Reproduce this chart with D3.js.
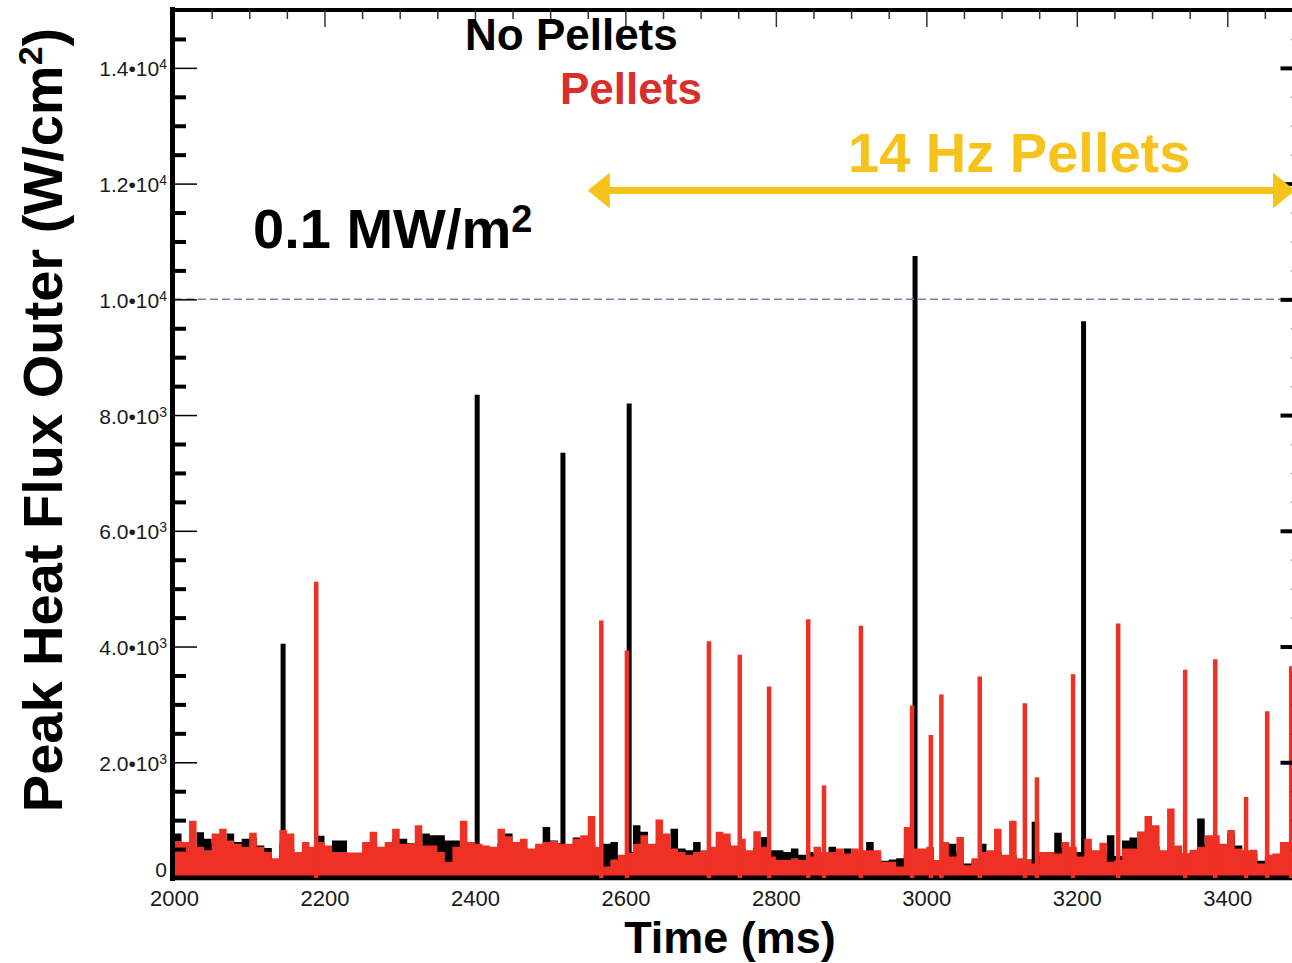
<!DOCTYPE html>
<html>
<head>
<meta charset="utf-8">
<script src="https://cdn.jsdelivr.net/npm/d3@7"></script>
<style>
  html, body { margin: 0; padding: 0; background: #fff; }
  svg { display: block; font-family: "Liberation Sans", Arial, Helvetica, sans-serif; }
</style>
</head>
<body>
<svg id="chart" width="1292" height="963"></svg>
<script>
// noisy baseline, upper envelope per 10 ms bin starting at 2000 ms (W/cm2)
const binStart = 2000
const binWidth = 10

const noPelletsBase = [
  770, 560, 520, 790, 680, 600, 560, 770, 620, 680,
  700, 560, 520, 300, 600, 500, 420, 450, 520, 730,
  520, 650, 650, 400, 380, 450, 600, 450, 520, 680,
  680, 600, 560, 770, 740, 740, 650, 650, 600, 500,
  560, 480, 450, 600, 770, 500, 520, 450, 520, 880,
  650, 600, 520, 700, 560, 620, 480, 590, 620, 380,
  450, 910, 800, 560, 600, 520, 850, 510, 480, 620,
  420, 450, 480, 600, 520, 500, 450, 520, 710, 480,
  480, 450, 510, 400, 450, 420, 380, 540, 400, 510,
  420, 400, 620, 380, 300, 320, 340, 400, 450, 420,
  510, 300, 620, 590, 450, 250, 300, 590, 420, 450,
  350, 400, 300, 320, 970, 380, 400, 780, 520, 450,
  450, 500, 420, 450, 740, 380, 650, 700, 800, 600,
  550, 420, 500, 450, 420, 450, 1030, 600, 500, 480,
  770, 560, 450, 420, 300, 350, 400, 450, 420, 400
]

const pelletsBase = [
  640, 620, 990, 540, 480, 770, 850, 650, 590, 540,
  780, 540, 450, 340, 830, 770, 450, 620, 540, 620,
  560, 450, 450, 440, 440, 620, 800, 540, 620, 850,
  590, 590, 910, 560, 560, 450, 280, 540, 990, 620,
  590, 560, 540, 850, 720, 620, 680, 510, 590, 620,
  640, 590, 590, 680, 740, 1070, 540, 200, 320, 400,
  430, 590, 740, 590, 1010, 770, 510, 450, 400, 450,
  480, 540, 800, 770, 560, 680, 480, 810, 540, 370,
  310, 310, 340, 310, 370, 540, 450, 450, 510, 425,
  510, 480, 480, 480, 280, 280, 200, 880, 510, 510,
  540, 310, 620, 370, 710, 220, 340, 450, 480, 850,
  400, 990, 340, 310, 250, 450, 450, 425, 620, 540,
  370, 680, 480, 610, 280, 310, 510, 510, 800, 1070,
  910, 480, 1200, 560, 425, 490, 540, 740, 740, 590,
  830, 510, 480, 490, 250, 400, 425, 620, 620, 600
]

// ELM spikes: [time (ms), peak (W/cm2)]
const noPelletsSpikes = [
  [2145, 4050], [2403, 8350], [2517, 7350], [2605, 8200], [2985, 10750], [3209, 9620]
]

const pelletsSpikes = [
  [2189, 5120], [2568, 4450], [2602, 3930], [2711, 4090], [2752, 3860], [2791, 3310],
  [2843, 4470], [2864, 1600], [2913, 4360], [2981, 2980], [3006, 2470], [3020, 3170],
  [3071, 3480], [3131, 3020], [3147, 1740], [3195, 3520], [3255, 4400], [3344, 3600],
  [3384, 3780], [3425, 1400], [3453, 2880], [3485, 3660]
]

const xTickValues = [2000, 2200, 2400, 2600, 2800, 3000, 3200, 3400]
const yTickValues = [0, 2000, 4000, 6000, 8000, 10000, 12000, 14000]
const thresholdValue = 10000      // 0.1 MW/m2
const pelletWindow = [2550, 3490] // 14 Hz pellet period

const black = "#000"
const red = "#ee3124"
const gold = "#f6c31d"

const svg = d3.select("#chart")
svg.append("rect").attr("width", 1292).attr("height", 963).attr("fill", "#fff")

const x = d3.scaleLinear().domain([2000, 3500]).range([174, 1302.5])
const y = d3.scaleLinear().domain([0, 15000]).range([878, 10])

// data
const baseArea = floor => d3.area()
    .curve(d3.curveStepAfter)
    .x((d, i) => x(binStart + i * binWidth))
    .y0(y(floor))
    .y1(d => y(d))

const drawSpikes = (data, color, width) => {
  svg.append("g").selectAll("line").data(data).join("line")
      .attr("x1", d => x(d[0]))
      .attr("x2", d => x(d[0]))
      .attr("y1", y(0))
      .attr("y2", d => y(d[1]))
      .attr("stroke", color)
      .attr("stroke-width", width)
}

svg.append("path")
    .datum(noPelletsBase)
    .attr("d", baseArea(-40))
    .attr("fill", black)
drawSpikes(noPelletsSpikes, black, 5)

svg.append("path")
    .datum(pelletsBase)
    .attr("d", baseArea(45))
    .attr("fill", red)
drawSpikes(pelletsSpikes, red, 4.5)

// threshold line
svg.append("line")
    .attr("x1", x(2000)).attr("x2", x(3500))
    .attr("y1", y(thresholdValue)).attr("y2", y(thresholdValue))
    .attr("stroke", "#6f7fb8")
    .attr("stroke-width", 1.5)
    .attr("stroke-dasharray", "8,4")

// frame: left and top
svg.append("line")
    .attr("x1", 172.5).attr("x2", 172.5).attr("y1", 7).attr("y2", 881)
    .attr("stroke", black).attr("stroke-width", 5)
svg.append("line")
    .attr("x1", 170).attr("x2", 1302).attr("y1", 10).attr("y2", 10)
    .attr("stroke", black).attr("stroke-width", 4)

const yMinor = d3.range(500, 15000, 500).filter(v => v % 2000)
const xMinor = d3.range(2050, 3500, 50).filter(v => v % 200)

const tickGroup = (axis, tx, ty, width, color) => {
  const g = svg.append("g").attr("transform", `translate(${tx},${ty})`).call(axis)
  g.select(".domain").remove()
  g.selectAll("text").remove()
  g.selectAll("line").attr("stroke", color).attr("stroke-width", width)
  return g
}

// left axis ticks (inside)
tickGroup(d3.axisRight(y).tickValues(yTickValues.slice(1)).tickSize(25), 172, 0, 1.5, black)
tickGroup(d3.axisRight(y).tickValues(yMinor).tickSize(14), 172, 0, 4, black)

// right axis ticks (mostly off the picture)
tickGroup(d3.axisLeft(y).tickValues(yTickValues.slice(1)).tickSize(22), x(3500), 0, 4, black)
tickGroup(d3.axisLeft(y).tickValues(yMinor).tickSize(11), x(3500), 0, 1.5, "#333")

// top axis ticks
tickGroup(d3.axisBottom(x).tickValues(xTickValues.slice(1)).tickSize(17), 0, 10, 1.5, "#333")
tickGroup(d3.axisBottom(x).tickValues(xMinor).tickSize(9), 0, 10, 1.5, "#333")

// y tick labels like 1.4•10^4
const yLabels = svg.append("g")
    .attr("font-size", 21)
    .attr("fill", "#1a1a1a")
    .attr("text-anchor", "end")
  .selectAll("text").data(yTickValues).join("text")
    .attr("x", 167)
    .attr("y", d => (d === 0 ? y(d) - 1 : y(d) + 8.5))
yLabels.each(function(v) {
  const t = d3.select(this)
  if (v === 0) { t.text("0"); return }
  const e = Math.floor(Math.log10(v))
  t.append("tspan").text((v / 10 ** e).toFixed(1) + "\u202210")
  t.append("tspan").attr("font-size", 14).attr("dy", -7).text(e)
})

// x tick labels
const xAxis = svg.append("g")
    .attr("transform", `translate(0,${y(0) + 2})`)
    .call(d3.axisBottom(x).tickValues(xTickValues).tickFormat(d3.format("d")).tickSize(0).tickPadding(10))
xAxis.select(".domain").remove()
xAxis.selectAll("text")
    .attr("font-size", 22)
    .attr("font-family", "Liberation Sans, Arial, sans-serif")
    .attr("fill", "#1a1a1a")

// axis titles
const yTitle = svg.append("text")
    .attr("transform", "translate(62,420) rotate(-90)")
    .attr("text-anchor", "middle")
    .attr("font-size", 56)
    .attr("font-weight", "bold")
    .attr("fill", black)
yTitle.append("tspan").text("Peak Heat Flux Outer (W/cm")
yTitle.append("tspan").attr("font-size", 34).attr("dy", -20).text("2")
yTitle.append("tspan").attr("dy", 20).text(")")

svg.append("text")
    .attr("x", 730).attr("y", 953)
    .attr("text-anchor", "middle")
    .attr("font-size", 45)
    .attr("font-weight", "bold")
    .attr("fill", black)
    .text("Time (ms)")

// legend-like labels
svg.append("text")
    .attr("x", 465).attr("y", 50)
    .attr("font-size", 44).attr("font-weight", "bold").attr("fill", black)
    .text("No Pellets")
svg.append("text")
    .attr("x", 560).attr("y", 104)
    .attr("font-size", 44).attr("font-weight", "bold").attr("fill", "#d92f2b")
    .text("Pellets")

const mw = svg.append("text")
    .attr("x", 253).attr("y", 248)
    .attr("font-size", 56).attr("font-weight", "bold").attr("fill", black)
mw.append("tspan").text("0.1 MW/m")
mw.append("tspan").attr("font-size", 38).attr("dy", -16).text("2")

// pellet window arrow
const ay = y(11880)
const x0 = x(pelletWindow[0])
const x1 = x(pelletWindow[1])
const head = 22
svg.append("line")
    .attr("x1", x0 + head - 2).attr("x2", x1 - head + 2)
    .attr("y1", ay).attr("y2", ay)
    .attr("stroke", gold).attr("stroke-width", 7)
svg.append("path")
    .attr("d", `M${x0},${ay} L${x0 + head},${ay - 18} L${x0 + head},${ay + 18} Z`)
    .attr("fill", gold)
svg.append("path")
    .attr("d", `M${x1},${ay} L${x1 - head},${ay - 18} L${x1 - head},${ay + 18} Z`)
    .attr("fill", gold)
svg.append("text")
    .attr("x", 848).attr("y", 172)
    .attr("font-size", 56).attr("font-weight", "bold").attr("fill", gold)
    .text("14 Hz Pellets")
</script>
</body>
</html>
